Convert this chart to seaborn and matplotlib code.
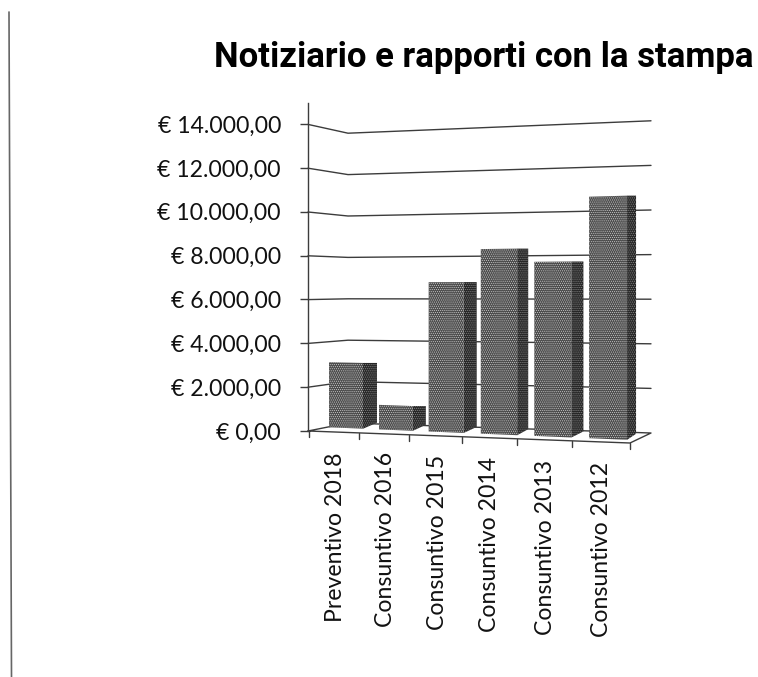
import numpy as np
import pandas as pd
import matplotlib
matplotlib.use("Agg")
import matplotlib.pyplot as plt
import seaborn as sns
from matplotlib.lines import Line2D
from matplotlib.transforms import Transform, IdentityTransform

# dati
voci = ["Preventivo 2018", "Consuntivo 2016", "Consuntivo 2015",
        "Consuntivo 2014", "Consuntivo 2013", "Consuntivo 2012"]
importi = [3100, 1150, 6900, 8400, 7800, 10650]
tick_valori = [0, 2000, 4000, 6000, 8000, 10000, 12000, 14000]
tick_testi = ["€ 0,00", "€ 2.000,00", "€ 4.000,00", "€ 6.000,00",
              "€ 8.000,00", "€ 10.000,00", "€ 12.000,00", "€ 14.000,00"]
titolo = "Notiziario e rapporti con la stampa"

W, H = 758, 677
LARGH = 0.68
CENTRI_I = [-1, 0, 1, 2, 3, 4, 5, 6]
CENTRI_PX = [296, 346, 396, 445.5, 499, 552.5, 608, 664]
PROF = [14, 13, 13, 11, 12, 9]
RISE = 6

sns.set_theme(style="white")
plt.rcParams["font.family"] = ["Lato", "DejaVu Sans"]
plt.rcParams["hatch.linewidth"] = 0.5


def px(x, y):
    return np.column_stack([x, H - np.asarray(y)])


def base_y(x):
    return 428 + 0.042 * (x - 346)


def scala(x):
    return 0.0211 + (x - 346) * 0.0017 / 262


class Fronte(Transform):
    # faccia anteriore delle barre, in prospettiva
    input_dims = output_dims = 2

    def transform_non_affine(self, values):
        xp = np.interp(values[:, 0], CENTRI_I, CENTRI_PX)
        yp = base_y(xp) - scala(xp) * values[:, 1]
        return px(xp, yp)


class Lato(Transform):
    # faccia laterale: parte dallo spigolo destro e va verso il fondo
    input_dims = output_dims = 2

    def transform_non_affine(self, values):
        ic = np.round(values[:, 0]).astype(int)
        t = (values[:, 0] - ic) / LARGH + 0.5
        xf = np.interp(ic + LARGH / 2, CENTRI_I, CENTRI_PX)
        top = np.array(importi)[ic]
        prof = np.array(PROF)[ic]
        yp = base_y(xf) - scala(xf) * values[:, 1] - t * RISE * (1 - values[:, 1] / top)
        return px(xf + t * prof, yp)


class Parete(Transform):
    # griglia sulle due pareti: x in pixel, y in euro
    input_dims = output_dims = 2

    def transform_non_affine(self, values):
        x, v = values[:, 0], values[:, 1]
        y = np.where(x <= 348,
                     431 - 0.0219 * v + (x - 308) / 40 * (-8 + 0.0012 * v),
                     423 - 0.0207 * v + (x - 348) / 303 * (10 - 0.0016 * v))
        return px(x, y)


fig = plt.figure(figsize=(W / 100, H / 100), dpi=100)
ax = fig.add_axes([308 / W, 1 - 431 / H, 343 / W, (431 - 103) / H])
ax.patch.set_alpha(0)

df = pd.DataFrame({"voce": voci, "importo": importi})

# griglia
for v in tick_valori[1:]:
    ax.plot([308, 348, 651], [v, v, v], color="#3c3c3c", lw=1.0,
            transform=Parete(), clip_on=False, zorder=1)

# facce laterali e frontali
sns.barplot(data=df, x="voce", y="importo", ax=ax, width=LARGH, color="#262626",
            saturation=1, zorder=3)
for p in ax.patches:
    p.set_transform(Lato())
    p.set_clip_on(False)
    p.set_hatch("........")
    p.set_edgecolor("#8a8a8a")
    p.set_linewidth(0)
n_lati = len(ax.patches)
sns.barplot(data=df, x="voce", y="importo", ax=ax, width=LARGH, color="#4c4c4c",
            saturation=1, zorder=4)
for p in ax.patches[n_lati:]:
    p.set_transform(Fronte())
    p.set_clip_on(False)
    p.set_hatch("........")
    p.set_edgecolor("#c8c8c8")
    p.set_linewidth(0)

# pavimento e tacche asse x
id_t = IdentityTransform()
pav = px([308, 630, 651, 348, 308], [431, 443, 433, 423, 431])
ax.plot(pav[:, 0], pav[:, 1], color="#3c3c3c", lw=1.0, transform=id_t, clip_on=False, zorder=2)
for xt in [309, 359, 409, 462, 517, 572, 630]:
    yt = 431 + (xt - 308) * 12 / 322
    seg = px([xt, xt], [yt, yt + 6])
    ax.plot(seg[:, 0], seg[:, 1], color="#3c3c3c", lw=1.0, transform=id_t, clip_on=False)

# etichette ruotate
for voce, xl, yl in zip(voci, [335, 385, 437, 490, 545, 602], [452, 452, 455, 457, 460, 462]):
    ax.text(xl, H - yl, voce, rotation=90, ha="center", va="top", fontsize=16.6,
            color="#111111", transform=id_t, clip_on=False)

ax.set_ylim(0, 328 / 307 * 14000)
ax.set_yticks(tick_valori)
ax.set_yticklabels(tick_testi, fontsize=16.6, color="#111111")
ax.tick_params(axis="y", left=True, length=6, width=1.0, color="#3c3c3c", pad=13.5)
ax.set_xticks([])
ax.set_xlabel("")
ax.set_ylabel("")
for s in ["top", "right", "bottom"]:
    ax.spines[s].set_visible(False)
ax.spines["left"].set_color("#3c3c3c")
ax.spines["left"].set_linewidth(1.0)

fig.text(484 / W, 1 - 57 / H, titolo, ha="center", va="center", fontsize=25,
         fontweight="bold", color="black", family=["Roboto", "Liberation Sans"])

# bordo della scansione a sinistra
fig.add_artist(Line2D([9 / W, 11.5 / W], [1 - 12 / H, 0], color="#666666", lw=1.2))

fig.savefig("out.png", dpi=100)
